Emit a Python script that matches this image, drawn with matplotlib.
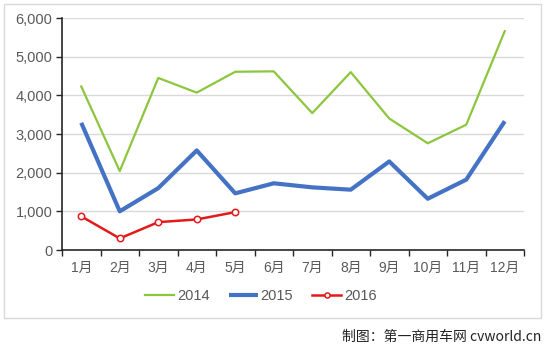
import matplotlib
matplotlib.use("Agg")
import matplotlib.pyplot as plt
from matplotlib.patches import Rectangle
from matplotlib.ticker import FuncFormatter, FixedLocator

plt.rcParams['font.family'] = ['Liberation Sans', 'Noto Sans CJK SC', 'DejaVu Sans']

months = ["1月", "2月", "3月", "4月", "5月", "6月", "7月", "8月", "9月", "10月", "11月", "12月"]
s2014 = [4230, 2040, 4450, 4070, 4610, 4620, 3540, 4600, 3400, 2760, 3240, 5660]
s2015 = [3290, 1000, 1600, 2575, 1465, 1725, 1620, 1560, 2290, 1325, 1820, 3330]
s2016 = [870, 300, 720, 790, 980]
yticks = [0, 1000, 2000, 3000, 4000, 5000, 6000]

fig = plt.figure(figsize=(5.46, 3.49), dpi=100)
fig.patches.append(Rectangle((4/546, 1-318/349), 537/546, 314/349, transform=fig.transFigure,
                             fill=False, edgecolor="#d9d9d9", linewidth=1.0))
ax = fig.add_axes([62/546, 1-250/349, 462/546, 232/349])

x = list(range(len(months)))
ax.plot(x, s2014, color="#8cc63e", lw=1.6, label="2014")
ax.plot(x, s2015, color="#4472c4", lw=3.0, label="2015", solid_capstyle="butt")
ax.plot(x[:len(s2016)], s2016, color="#e31a1c", lw=1.8, marker="o", markersize=4.6,
        markerfacecolor="white", markeredgecolor="#e31a1c", markeredgewidth=1.1, label="2016")

ax.set_xlim(-0.5, 11.5)
ax.set_ylim(0, 6000)
ax.set_yticks(yticks)
ax.yaxis.set_major_formatter(FuncFormatter(lambda v, p: f"{int(v):,}"))
ax.set_xticks(x)
ax.set_xticklabels(months)
ax.xaxis.set_minor_locator(FixedLocator([i - 0.5 for i in range(13)]))
ax.tick_params(axis="x", which="major", length=0, pad=8, labelsize=10, labelcolor="#595959")
ax.tick_params(axis="x", which="minor", length=4, width=1, color="#262626", direction="out")
ax.tick_params(axis="y", length=4, width=1, color="#262626", labelsize=10.5, labelcolor="#595959", pad=3)
ax.grid(axis="y", color="#d9d9d9", lw=1)
ax.set_axisbelow(True)
for s in ["top", "right"]:
    ax.spines[s].set_visible(False)
for s in ["left", "bottom"]:
    ax.spines[s].set_color("#262626")
    ax.spines[s].set_linewidth(1.2)

leg = fig.legend(loc="center", bbox_to_anchor=(261/546, 1-296/349), ncol=3, frameon=False,
                 fontsize=10.5, handlelength=2.0, columnspacing=1.3, handletextpad=0.2,
                 markerscale=0.8)
for t in leg.get_texts():
    t.set_color("#595959")

fig.text(541/546, 1-337/349, "制图：第一商用车网 cvworld.cn", ha="right", va="center",
         fontsize=10, color="#222222", family=['Noto Sans CJK SC', 'DejaVu Sans'])

fig.savefig("out.png", dpi=100)
